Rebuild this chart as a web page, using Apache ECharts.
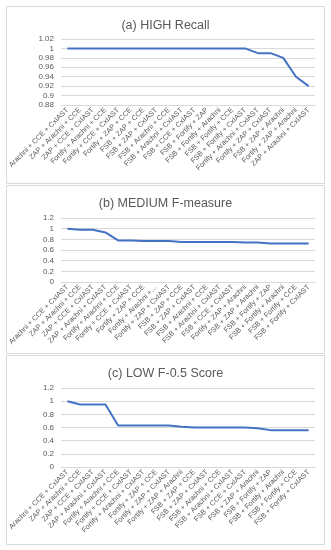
<!DOCTYPE html>
<html><head><meta charset="utf-8">
<script src="https://cdn.jsdelivr.net/npm/echarts@6/dist/echarts.min.js"></script>
<style>html,body{margin:0;padding:0;background:#fff}#c{width:331px;height:550px}</style>
</head><body><div id="c"></div>
<script>
const catsA = ["Arachni + CCE + CxIAST","ZAP + Arachni + CCE","ZAP + CCE + CxIAST","Fortify + Arachni + CCE","Fortify + CCE + CxIAST","Fortify + ZAP + CCE","FSB + ZAP + CCE","FSB + ZAP + CxIAST","FSB + Arachni + CCE","FSB + Arachni + CxIAST","FSB + CCE + CxIAST","FSB + Fortify + ZAP","FSB + Fortify + Arachni","FSB + Fortify + CCE","FSB + Fortify + CxIAST","Fortify + Arachni + CxIAST","Fortify + ZAP + CxIAST","FSB + ZAP + Arachni","Fortify + ZAP + Arachni","ZAP + Arachni + CxIAST"];
const recall = [1,1,1,1,1,1,1,1,1,1,1,1,1,1,1,0.99,0.99,0.98,0.94,0.92];

const catsB = ["Arachni + CCE + CxIAST","ZAP + Arachni + CCE","ZAP + CCE + CxIAST","ZAP + Arachni + CxIAST","Fortify + Arachni + CCE","Fortify + CCE + CxIAST","Fortify + ZAP + CCE","Fortify + Arachni +…","Fortify + ZAP + CxIAST","FSB + ZAP + CCE","FSB + ZAP + CxIAST","FSB + Arachni + CCE","FSB + Arachni + CxIAST","FSB + CCE + CxIAST","Fortify + ZAP + Arachni","FSB + ZAP + Arachni","FSB + Fortify + ZAP","FSB + Fortify + Arachni","FSB + Fortify + CCE","FSB + Fortify + CxIAST"];
const fmeasure = [1.0,0.98,0.98,0.93,0.78,0.78,0.77,0.77,0.77,0.75,0.75,0.75,0.75,0.75,0.74,0.74,0.72,0.72,0.72,0.72];

const catsC = ["Arachni + CCE + CxIAST","ZAP + Arachni + CCE","ZAP + CCE + CxIAST","ZAP + Arachni + CxIAST","Fortify + Arachni + CCE","Fortify + CCE + CxIAST","Fortify + Arachni + CxIAST","Fortify + ZAP + CCE","Fortify + ZAP + CxIAST","Fortify + ZAP + Arachni","FSB + ZAP + CCE","FSB + ZAP + CxIAST","FSB + Arachni + CCE","FSB + Arachni + CxIAST","FSB + CCE + CxIAST","FSB + ZAP + Arachni","FSB + Fortify + ZAP","FSB + Fortify + Arachni","FSB + Fortify + CCE","FSB + Fortify + CxIAST"];
const f05 = [1.0,0.95,0.95,0.95,0.63,0.63,0.63,0.63,0.63,0.61,0.60,0.60,0.60,0.60,0.60,0.59,0.56,0.56,0.56,0.56];

const titles = ["(a) HIGH Recall","(b) MEDIUM F-measure","(c) LOW F-0.5 Score"];

const FONT = "'Liberation Sans', Arial, sans-serif";
const TXT = "#595959", GRID = "#d9d9d9", LINE = "#4472C4";

const chart = echarts.init(document.getElementById('c'), null, {renderer:'canvas'});
const grids = [
  {left:61, width:254, top:39, height:66},
  {left:61, width:254, top:218, height:64},
  {left:61, width:254, top:388, height:79}
];
const titleTops = [14, 192, 362];
const panels = [[6,6,318,177],[6,185,318,168],[6,355,318,189]];
const cats = [catsA, catsB, catsC];
const vals = [recall, fmeasure, f05];
const yCfg = [{min:0.88,max:1.02,interval:0.02},{min:0,max:1.2,interval:0.2},{min:0,max:1.2,interval:0.2}];

chart.setOption({
  animation:false,
  backgroundColor:'#fff',
  graphic: panels.map(p=>({type:'rect',z:-10,silent:true,shape:{x:p[0]+0.5,y:p[1]+0.5,width:p[2],height:p[3]},style:{fill:'#fff',stroke:GRID,lineWidth:1}})),
  title: titles.map((t,i)=>({text:t,left:'center',top:titleTops[i],textStyle:{fontFamily:FONT,fontSize:12.5,fontWeight:'normal',color:TXT}})),
  grid: grids,
  xAxis: cats.map((c,i)=>({type:'category',gridIndex:i,data:c,boundaryGap:true,
    axisLine:{show:true,lineStyle:{color:GRID}},axisTick:{show:false},
    axisLabel:{interval:0,rotate:45,fontSize:7.2,color:TXT,fontFamily:FONT,margin:4}})),
  yAxis: yCfg.map((y,i)=>({type:'value',gridIndex:i,min:y.min,max:y.max,interval:y.interval,
    axisLine:{show:false},axisTick:{show:false},
    splitLine:{lineStyle:{color:GRID}},
    axisLabel:{fontSize:8,color:TXT,fontFamily:FONT,margin:7,formatter:v=>String(+v.toFixed(2))}})),
  series: vals.map((v,i)=>({type:'line',xAxisIndex:i,yAxisIndex:i,data:v,showSymbol:false,symbol:'none',
    lineStyle:{color:LINE,width:2},itemStyle:{color:LINE}}))
});
</script></body></html>
